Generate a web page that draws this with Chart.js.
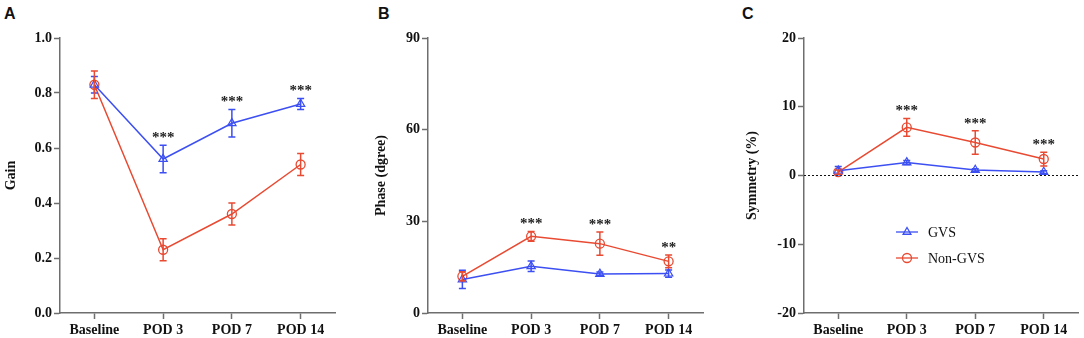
<!DOCTYPE html>
<html>
<head>
<meta charset="utf-8">
<script src="https://cdn.jsdelivr.net/npm/chart.js@4.4.0/dist/chart.umd.min.js"></script>
<style>
  body { margin: 0; background: #fff; width: 1084px; height: 338px; position: relative; overflow: hidden; }
  canvas { position: absolute; top: 0; }
  .tag { position: absolute; top: 5px; font: bold 16px "Liberation Sans", Arial, sans-serif; color: #111; }
</style>
</head>
<body>
<div class="tag" style="left:4px">A</div>
<div class="tag" style="left:378px">B</div>
<div class="tag" style="left:742px">C</div>
<canvas id="gainChart" width="360" height="338" style="left:0"></canvas>
<canvas id="phaseChart" width="360" height="338" style="left:360px"></canvas>
<canvas id="symChart" width="364" height="338" style="left:720px"></canvas>
<script>
// categories and values
const categories = ['Baseline', 'POD 3', 'POD 7', 'POD 14'];

const gainGVS = [0.83, 0.56, 0.69, 0.76];
const gainGVSErr = [0.03, 0.05, 0.05, 0.02];
const gainNon = [0.83, 0.23, 0.36, 0.54];
const gainNonErr = [0.05, 0.04, 0.04, 0.04];
const gainStars = ['', '***', '***', '***'];
const gainTicks = [0, 0.2, 0.4, 0.6, 0.8, 1.0];

const phaseGVS = [11, 15.3, 12.8, 12.9];
const phaseGVSErr = [3, 1.7, 0.6, 1.2];
const phaseNon = [12, 25.1, 22.7, 16.9];
const phaseNonErr = [1.5, 1.6, 3.8, 2.1];
const phaseStars = ['', '***', '***', '**'];
const phaseTicks = [0, 30, 60, 90];

const symGVS = [0.7, 1.9, 0.8, 0.5];
const symGVSErr = [0.6, 0.3, 0.2, 0.2];
const symNon = [0.5, 7.0, 4.8, 2.4];
const symNonErr = [0.3, 1.3, 1.7, 1.0];
const symStars = ['', '***', '***', '***'];
const symTicks = [-20, -10, 0, 10, 20];

const seriesNames = ['GVS', 'Non-GVS'];
const blue = '#3c4ff2';
const red = '#e84a32';
const axisGray = '#6e6e6e';
const serif = '"Liberation Serif", "Times New Roman", serif';

// error bars, significance marks, zero line and inset legend
const extras = {
    id: 'extras',
    afterDatasetsDraw(chart, args, opts) {
        const ctx = chart.ctx;
        const y = chart.scales.y;
        const area = chart.chartArea;

        if (opts.zeroLine) {
            const y0 = y.getPixelForValue(0);
            ctx.save();
            ctx.strokeStyle = '#111';
            ctx.lineWidth = 1.2;
            ctx.setLineDash([2, 2]);
            ctx.beginPath();
            ctx.moveTo(area.left, y0);
            ctx.lineTo(area.right, y0);
            ctx.stroke();
            ctx.restore();
        }

        const tops = [];
        chart.data.datasets.forEach((ds, i) => {
            const meta = chart.getDatasetMeta(i);
            ctx.save();
            ctx.strokeStyle = ds.borderColor;
            ctx.lineWidth = 1.5;
            meta.data.forEach((pt, j) => {
                const e = ds.errors[j];
                const top = y.getPixelForValue(ds.data[j] + e);
                const bot = y.getPixelForValue(ds.data[j] - e);
                tops[j] = tops[j] === undefined ? top : Math.min(tops[j], top);
                ctx.beginPath();
                ctx.moveTo(pt.x, top); ctx.lineTo(pt.x, bot);
                ctx.moveTo(pt.x - 3.5, top); ctx.lineTo(pt.x + 3.5, top);
                ctx.moveTo(pt.x - 3.5, bot); ctx.lineTo(pt.x + 3.5, bot);
                ctx.stroke();
            });
            ctx.restore();
        });

        const meta0 = chart.getDatasetMeta(0);
        ctx.save();
        ctx.fillStyle = '#222';
        ctx.font = 'bold 15px ' + serif;
        ctx.textAlign = 'center';
        ctx.textBaseline = 'middle';
        opts.stars.forEach((s, j) => {
            if (!s) return;
            ctx.fillText(s, meta0.data[j].x, tops[j] - 7);
        });
        ctx.restore();

        if (opts.legend) {
            ctx.save();
            chart.data.datasets.forEach((ds, i) => {
                const ly = area.top + 194 + i * 26;
                const lx = area.left + 92;
                ctx.strokeStyle = ds.borderColor;
                ctx.fillStyle = 'rgba(0,0,0,0)';
                ctx.lineWidth = 1.3;
                ctx.beginPath();
                ctx.moveTo(lx, ly); ctx.lineTo(lx + 22, ly);
                ctx.stroke();
                Chart.helpers.drawPoint(ctx, {
                    pointStyle: ds.pointStyle, radius: 4.5, borderWidth: 1.3
                }, lx + 11, ly);
                ctx.fillStyle = '#111';
                ctx.font = '14px ' + serif;
                ctx.textAlign = 'left';
                ctx.textBaseline = 'middle';
                ctx.fillText(ds.label, lx + 32, ly + 1);
            });
            ctx.restore();
        }
    }
};

function makeChart(id, gvs, gvsErr, non, nonErr, stars, ticks, title, yWidth, titlePad, padRight, extra) {
    const tickSet = ticks.slice();
    return new Chart(document.getElementById(id), {
        type: 'line',
        data: {
            labels: categories,
            datasets: [
                {
                    label: seriesNames[0],
                    data: gvs,
                    errors: gvsErr,
                    borderColor: blue,
                    backgroundColor: 'rgba(0,0,0,0)',
                    borderWidth: 1.5,
                    pointStyle: 'triangle',
                    pointRadius: 4.8,
                    pointBorderWidth: 1.2,
                    pointBackgroundColor: 'rgba(0,0,0,0)'
                },
                {
                    label: seriesNames[1],
                    data: non,
                    errors: nonErr,
                    borderColor: red,
                    backgroundColor: 'rgba(0,0,0,0)',
                    borderWidth: 1.5,
                    pointStyle: 'circle',
                    pointRadius: 4.5,
                    pointBorderWidth: 1.3,
                    pointBackgroundColor: 'rgba(0,0,0,0)'
                }
            ]
        },
        options: {
            responsive: false,
            animation: false,
            layout: { padding: { top: 38, right: padRight, bottom: 0, left: 0 } },
            scales: {
                x: {
                    offset: true,
                    grid: { drawOnChartArea: false, drawTicks: true, tickLength: 6, tickColor: axisGray, tickWidth: 1.5 },
                    border: { color: axisGray, width: 1.5 },
                    ticks: { color: '#111', padding: 3, font: { family: serif, size: 14, weight: 'bold' } },
                    afterFit: function(scale) { scale.height = 25; }
                },
                y: {
                    min: tickSet[0],
                    max: tickSet[tickSet.length - 1],
                    afterBuildTicks: function(scale) {
                        scale.ticks = tickSet.map(v => ({ value: v }));
                    },
                    grid: { drawOnChartArea: false, drawTicks: true, tickLength: 6, tickColor: axisGray, tickWidth: 1.5 },
                    border: { color: axisGray, width: 1.5 },
                    ticks: {
                        color: '#111',
                        padding: 2,
                        font: { family: serif, size: 14, weight: 'bold' },
                        callback: function(v) {
                            return id === 'gainChart' ? v.toFixed(1) : String(v);
                        }
                    },
                    title: {
                        display: true,
                        text: title,
                        color: '#111',
                        padding: { top: titlePad, bottom: 0 },
                        font: { family: serif, size: 14, weight: 'bold' }
                    },
                    afterFit: function(scale) { scale.width = yWidth; }
                }
            },
            plugins: {
                legend: { display: false },
                tooltip: { enabled: false },
                extras: Object.assign({ stars: stars }, extra)
            }
        },
        plugins: [extras]
    });
}

makeChart('gainChart', gainGVS, gainGVSErr, gainNon, gainNonErr, gainStars, gainTicks,
    'Gain', 60, 2.6, 25, {});
makeChart('phaseChart', phaseGVS, phaseGVSErr, phaseNon, phaseNonErr, phaseStars, phaseTicks,
    'Phase (dgree)', 68, 12.6, 17, {});
makeChart('symChart', symGVS, symGVSErr, symNon, symNonErr, symStars, symTicks,
    'Symmetry (%)', 84, 23.6, 4, { zeroLine: true, legend: true });
</script>
</body>
</html>
